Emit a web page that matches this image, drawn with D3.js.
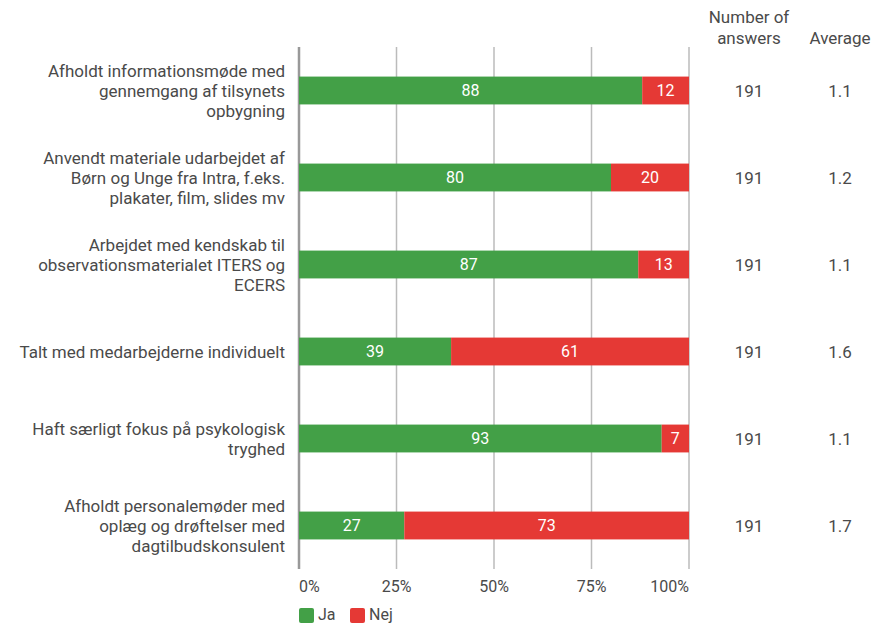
<!DOCTYPE html>
<html><head><meta charset="utf-8">
<script src="https://cdn.jsdelivr.net/npm/d3@7"></script>
<style>body{margin:0;background:#fff;font-family:Roboto,sans-serif;}</style>
</head><body><svg id="c" width="877" height="626"></svg>
<script>
const categories = [
  ["Afholdt informationsmøde med","gennemgang af tilsynets","opbygning"],
  ["Anvendt materiale udarbejdet af","Børn og Unge fra Intra, f.eks.","plakater, film, slides mv"],
  ["Arbejdet med kendskab til","observationsmaterialet ITERS og","ECERS"],
  ["Talt med medarbejderne individuelt"],
  ["Haft særligt fokus på psykologisk","tryghed"],
  ["Afholdt personalemøder med","oplæg og drøftelser med","dagtilbudskonsulent"]
];
const ja = [88, 80, 87, 39, 93, 27];
const nej = [12, 20, 13, 61, 7, 73];
const answers = [191, 191, 191, 191, 191, 191];
const average = ["1.1", "1.2", "1.1", "1.6", "1.1", "1.7"];
const ticks = [0, 25, 50, 75, 100];
const seriesNames = ["Ja", "Nej"];
const colors = ["#43a047", "#e53935"];
const textColor = "#4a4a4a";

const svg = d3.select("#c");
const x = d3.scaleLinear().domain([0, 100]).range([299, 689]);
const y = d3.scaleBand().domain(d3.range(categories.length)).range([47, 569]).paddingInner(0.68).paddingOuter(0.34);

// grid
svg.append("g").selectAll("line").data(ticks).join("line")
  .attr("x1", d => x(d)).attr("x2", d => x(d)).attr("y1", 47).attr("y2", 569)
  .attr("stroke", d => d === 0 ? "#999" : "#bbb").attr("stroke-width", d => d === 0 ? 2.5 : 1.5);

// bars
const stackData = categories.map((c, i) => ({i, Ja: ja[i], Nej: nej[i]}));
const stack = d3.stack().keys(seriesNames)(stackData);
stack.forEach((s, si) => {
  const g = svg.append("g");
  g.selectAll("rect").data(s).join("rect")
    .attr("x", d => x(d[0])).attr("width", d => x(d[1]) - x(d[0]))
    .attr("y", d => y(d.data.i)).attr("height", y.bandwidth())
    .attr("fill", colors[si]);
  g.selectAll("text").data(s).join("text")
    .attr("x", d => (x(d[0]) + x(d[1])) / 2).attr("y", d => y(d.data.i) + y.bandwidth() / 2)
    .attr("dy", "0.36em").attr("text-anchor", "middle").attr("fill", "#fff")
    .attr("font-size", 16).text(d => d[1] - d[0]);
});

// category labels
const lg = svg.append("g");
categories.forEach((lines, i) => {
  const cy = y(i) + y.bandwidth() / 2;
  const t = lg.append("text").attr("text-anchor", "end").attr("fill", textColor).attr("font-size", 17);
  lines.forEach((l, k) => {
    t.append("tspan").attr("x", 285).attr("y", cy + (k - (lines.length - 1) / 2) * 20).attr("dy", "0.36em").text(l);
  });
});

// columns
const colA = 749, colB = 840;
svg.append("text").attr("x", colA).attr("y", 17).attr("dy", "0.36em").attr("text-anchor", "middle").attr("fill", textColor).attr("font-size", 17).text("Number of");
svg.append("text").attr("x", colA).attr("y", 38).attr("dy", "0.36em").attr("text-anchor", "middle").attr("fill", textColor).attr("font-size", 17).text("answers");
svg.append("text").attr("x", colB).attr("y", 38).attr("dy", "0.36em").attr("text-anchor", "middle").attr("fill", textColor).attr("font-size", 17).text("Average");
svg.append("g").selectAll("text").data(answers).join("text")
  .attr("x", colA).attr("y", (d, i) => y(i) + y.bandwidth() / 2).attr("dy", "0.36em")
  .attr("text-anchor", "middle").attr("fill", textColor).attr("font-size", 17).text(d => d);
svg.append("g").selectAll("text").data(average).join("text")
  .attr("x", colB).attr("y", (d, i) => y(i) + y.bandwidth() / 2).attr("dy", "0.36em")
  .attr("text-anchor", "middle").attr("fill", textColor).attr("font-size", 17).text(d => d);

// x axis labels
svg.append("g").selectAll("text").data(ticks).join("text")
  .attr("x", d => x(d)).attr("y", 586).attr("dy", "0.36em")
  .attr("text-anchor", (d, i) => i === 0 ? "start" : (i === ticks.length - 1 ? "end" : "middle"))
  .attr("fill", textColor).attr("font-size", 16).text(d => d + "%");

// legend
const leg = svg.append("g");
const legX = [299, 350];
seriesNames.forEach((n, i) => {
  leg.append("rect").attr("x", legX[i]).attr("y", 608).attr("width", 15).attr("height", 15).attr("rx", 2).attr("fill", colors[i]);
  leg.append("text").attr("x", legX[i] + 19).attr("y", 614).attr("dy", "0.36em").attr("fill", textColor).attr("font-size", 16).text(n);
});
</script></body></html>
